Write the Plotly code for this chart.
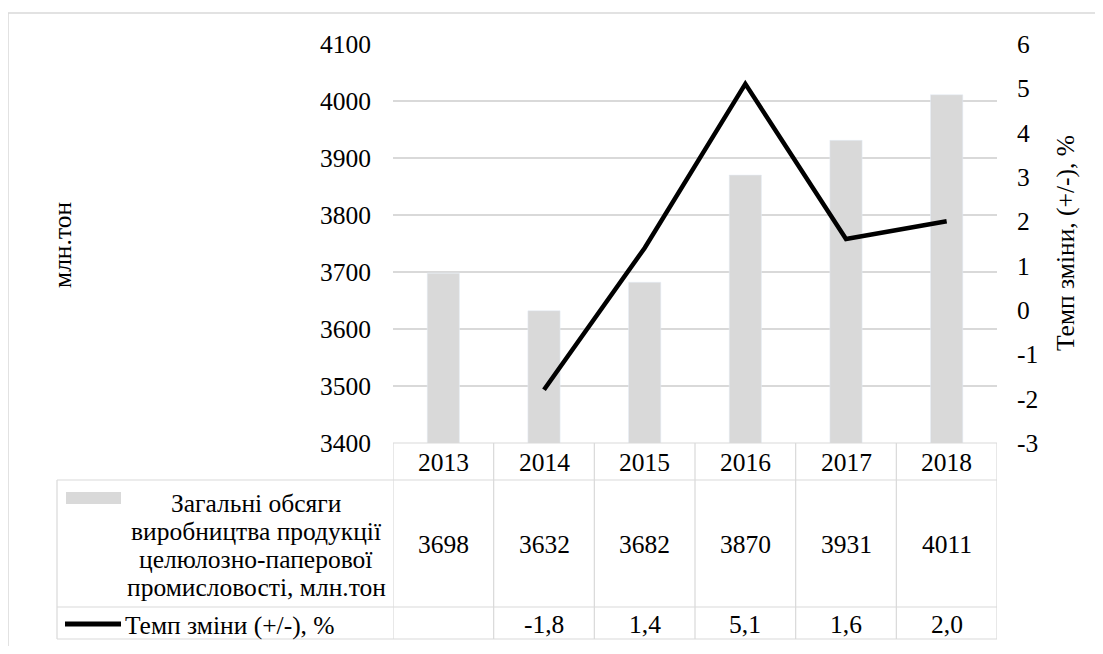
import plotly.graph_objects as go

# ---- data ----
years = ["2013", "2014", "2015", "2016", "2017", "2018"]
production = [3698, 3632, 3682, 3870, 3931, 4011]
rate_years = ["2014", "2015", "2016", "2017", "2018"]
rate = [-1.8, 1.4, 5.1, 1.6, 2.0]
rate_labels = ["", "-1,8", "1,4", "5,1", "1,6", "2,0"]
left_ticks = [3400, 3500, 3600, 3700, 3800, 3900, 4000, 4100]
right_ticks = [-3, -2, -1, 0, 1, 2, 3, 4, 5, 6]
bar_label_lines = ["Загальні обсяги", "виробництва продукції",
                   "целюлозно-паперової", "промисловості, млн.тон"]
line_label = "Темп зміни (+/-), %"
left_title = "млн.тон"
right_title = "Темп зміни, (+/-), %"

# page has an 8px body margin: figure pixel = page pixel - 8
OFF = 8
W, H = 1103 - 2 * OFF, 654 - 2 * OFF
L, R, T, B = 393 - OFF, 997 - OFF, 44 - OFF, 443 - OFF
FONT = "Liberation Serif, Times New Roman, serif"
FS = 25.5
GRID = "#d9d9d9"

def px(x):  # page x -> paper x
    return (x - OFF - L) / (R - L)

def py(y):  # page y -> paper y
    return (B - (y - OFF)) / (B - T)

fig = go.Figure()
fig.add_trace(go.Bar(x=years, y=production, marker_color="#d9d9d9",
                     width=0.32, name=" ".join(bar_label_lines), showlegend=False))
fig.add_trace(go.Scatter(x=rate_years, y=rate, mode="lines", yaxis="y2",
                         line=dict(color="black", width=4.5), name=line_label,
                         showlegend=False))

shapes = []
ann = []

# outer chart border (top & left visible)
shapes.append(dict(type="line", xref="paper", yref="paper", x0=px(8), x1=px(1110),
                   y0=py(13), y1=py(13), line=dict(color=GRID, width=1.5)))
shapes.append(dict(type="line", xref="paper", yref="paper", x0=px(8), x1=px(8),
                   y0=py(13), y1=py(660), line=dict(color=GRID, width=1.5)))

# data table grid
tcol = dict(color=GRID, width=1.2)
row_y = [443, 480, 607, 639]
for i in range(len(years) + 1):
    shapes.append(dict(type="line", xref="x", yref="paper", x0=i - 0.5, x1=i - 0.5,
                       y0=py(row_y[0]), y1=py(row_y[-1]), line=tcol))
shapes.append(dict(type="line", xref="paper", yref="paper", x0=px(57), x1=px(57),
                   y0=py(row_y[1]), y1=py(row_y[-1]), line=tcol))
shapes.append(dict(type="line", xref="paper", yref="paper", x0=px(393), x1=1,
                   y0=py(row_y[0]), y1=py(row_y[0]), line=tcol))
for yy in row_y[1:]:
    shapes.append(dict(type="line", xref="paper", yref="paper", x0=px(57), x1=1,
                       y0=py(yy), y1=py(yy), line=tcol))

# legend keys
shapes.append(dict(type="rect", xref="paper", yref="paper", x0=px(66), x1=px(121),
                   y0=py(492), y1=py(504), fillcolor="#d9d9d9", line=dict(width=0)))
shapes.append(dict(type="line", xref="paper", yref="paper", x0=px(65), x1=px(121),
                   y0=py(624), y1=py(624), line=dict(color="black", width=5)))

tf = dict(family=FONT, size=FS, color="black")
for i, (yr, v, r) in enumerate(zip(years, production, rate_labels)):
    ann.append(dict(x=i, xref="x", y=py(462), yref="paper", text=yr, showarrow=False,
                    font=tf, xanchor="center", yanchor="middle"))
    ann.append(dict(x=i, xref="x", y=py(544), yref="paper", text=str(v), showarrow=False,
                    font=tf, xanchor="center", yanchor="middle"))
    if r:
        ann.append(dict(x=i, xref="x", y=py(624), yref="paper", text=r, showarrow=False,
                        font=tf, xanchor="center", yanchor="middle"))

for k, line in enumerate(bar_label_lines):
    ann.append(dict(x=px(256), xref="paper", y=py(503 + 28 * k), yref="paper", text=line,
                    showarrow=False, font=tf, xanchor="center", yanchor="middle"))
ann.append(dict(x=px(123), xref="paper", y=py(625), yref="paper", text=line_label,
                showarrow=False, font=tf, xanchor="left", yanchor="middle"))

ann.append(dict(x=px(62), xref="paper", y=py(245), yref="paper", text=left_title,
                textangle=-90, showarrow=False, font=tf, xanchor="center", yanchor="middle"))
ann.append(dict(x=px(1065), xref="paper", y=py(243), yref="paper", text=right_title,
                textangle=-90, showarrow=False, font=tf, xanchor="center", yanchor="middle"))

fig.update_layout(
    width=W, height=H,
    margin=dict(l=L, r=W - R, t=T, b=H - B),
    paper_bgcolor="white", plot_bgcolor="white",
    showlegend=False,
    xaxis=dict(type="category", range=[-0.5, 5.5], showticklabels=False, showgrid=False,
               zeroline=False, showline=False, ticks=""),
    yaxis=dict(range=[3400, 4100], tickvals=left_ticks, ticktext=[str(t) for t in left_ticks],
               showgrid=True, gridcolor=GRID, gridwidth=1.5,
               zeroline=False, showline=False, ticks="", ticklabelstandoff=21,
               tickfont=tf),
    yaxis2=dict(range=[-3, 6], tickvals=right_ticks, ticktext=[str(t) for t in right_ticks],
                overlaying="y", side="right", showgrid=False,
                zeroline=False, showline=False, ticks="", ticklabelstandoff=19,
                tickfont=tf),
    shapes=shapes,
    annotations=ann,
)

fig.write_html("out.html")
